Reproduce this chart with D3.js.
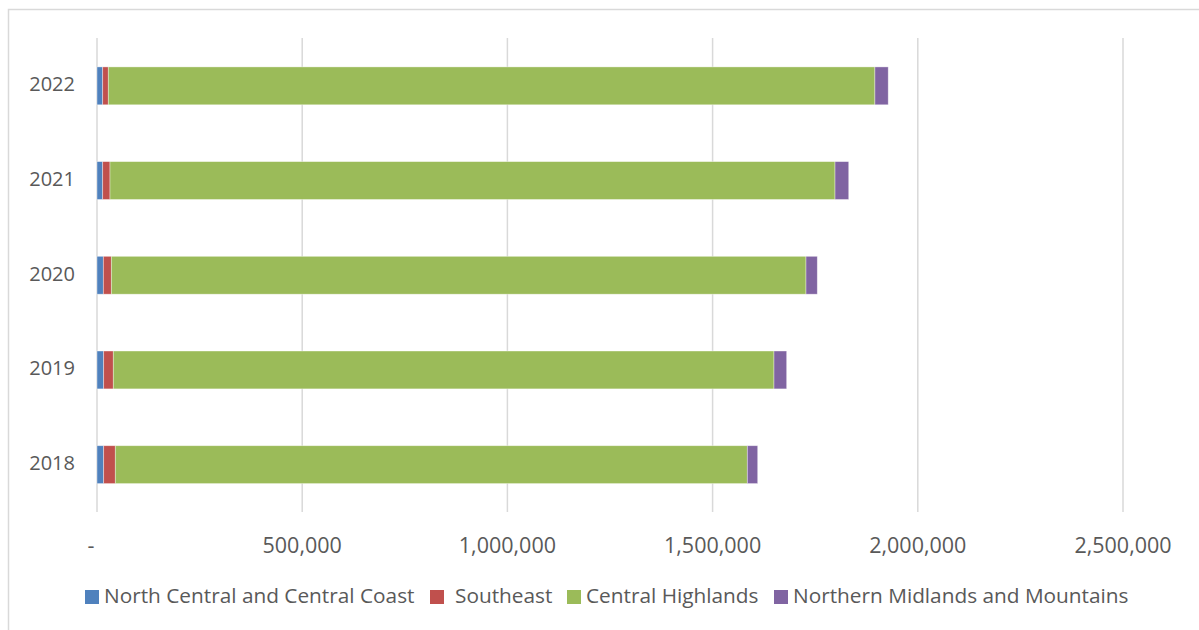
<!DOCTYPE html>
<html>
<head>
<meta charset="utf-8">
<script src="https://cdn.jsdelivr.net/npm/d3@7"></script>
<style>
  body { margin: 0; background: #fff; }
  text { font-family: "Open Sans", "Liberation Sans", sans-serif; fill: #595959; }
</style>
</head>
<body>
<div id="chart"></div>
<script>
//data
var years = ["2022", "2021", "2020", "2019", "2018"];
var regions = ["North Central and Central Coast", "Southeast", "Central Highlands", "Northern Midlands and Mountains"];
var colors = ["#4f81bd", "#c0504d", "#9bbb59", "#8064a2"];
var northCentral = [13900, 13900, 15400, 16300, 16300];
var southeast = [13600, 17800, 19500, 23400, 28300];
var centralHighlands = [1868000, 1766600, 1692700, 1609900, 1540000];
var northernMidlands = [32400, 33400, 27500, 30900, 25300];
var xTicks = [0, 500000, 1000000, 1500000, 2000000, 2500000];

var W = 1199, H = 630;

//rows for the stack
var rows = years.map(function(y, i){
    var r = {year: y};
    r[regions[0]] = northCentral[i];
    r[regions[1]] = southeast[i];
    r[regions[2]] = centralHighlands[i];
    r[regions[3]] = northernMidlands[i];
    return r;
});

var svg = d3.select("#chart").append("svg")
    .attr("width", W)
    .attr("height", H);

//chart frame
svg.append("path")
    .attr("d", "M8.5," + H + "V9.5H" + W)
    .attr("fill", "none")
    .attr("stroke", "#d9d9d9")
    .attr("stroke-width", 1.5);

var x = d3.scaleLinear()
    .domain([0, 2500000])
    .range([97, 1123]);

var y = d3.scaleBand()
    .domain(years)
    .range([38.5, 512])
    .paddingInner(0.6)
    .paddingOuter(0.3);

//gridlines
svg.append("g")
  .selectAll("line")
  .data(xTicks)
  .join("line")
    .attr("x1", d => x(d))
    .attr("x2", d => x(d))
    .attr("y1", 38)
    .attr("y2", 512)
    .attr("stroke", "#d9d9d9")
    .attr("stroke-width", 1.5);

//tick labels
var fmt = d3.format(",");
svg.append("g")
  .selectAll("text")
  .data(xTicks)
  .join("text")
    .attr("x", d => d === 0 ? x(d) - 6 : x(d))
    .attr("y", 547)
    .attr("text-anchor", "middle")
    .attr("dominant-baseline", "middle")
    .style("font-size", "21.5px")
    .text(d => d === 0 ? "-" : fmt(d));

//year labels
svg.append("g")
  .selectAll("text")
  .data(years)
  .join("text")
    .attr("x", 75)
    .attr("y", d => y(d) + y.bandwidth() / 2)
    .attr("text-anchor", "end")
    .attr("dominant-baseline", "middle")
    .style("font-size", "20px")
    .text(d => d);

//stacked bars
var stack = d3.stack().keys(regions);
var series = stack(rows);

svg.append("g")
  .selectAll("g")
  .data(series)
  .join("g")
    .attr("fill", (d, i) => colors[i])
  .selectAll("rect")
  .data(d => d)
  .join("rect")
    .attr("x", d => x(d[0]))
    .attr("y", d => y(d.data.year))
    .attr("width", d => x(d[1]) - x(d[0]))
    .attr("height", y.bandwidth())
    .attr("stroke", "#fff")
    .attr("stroke-opacity", 0.5)
    .attr("stroke-width", 0.75);

//legend
var legendX = [85, 430, 567, 774];
var leg = svg.append("g")
  .selectAll("g")
  .data(regions)
  .join("g")
    .attr("transform", (d, i) => "translate(" + legendX[i] + ",590)");

leg.append("rect")
    .attr("width", 14)
    .attr("height", 14)
    .attr("fill", (d, i) => colors[i]);

leg.append("text")
    .attr("x", (d, i) => i === 1 ? 25 : 19)
    .attr("y", 7)
    .attr("dominant-baseline", "middle")
    .style("font-size", "20.8px")
    .text(d => d);
</script>
</body>
</html>
